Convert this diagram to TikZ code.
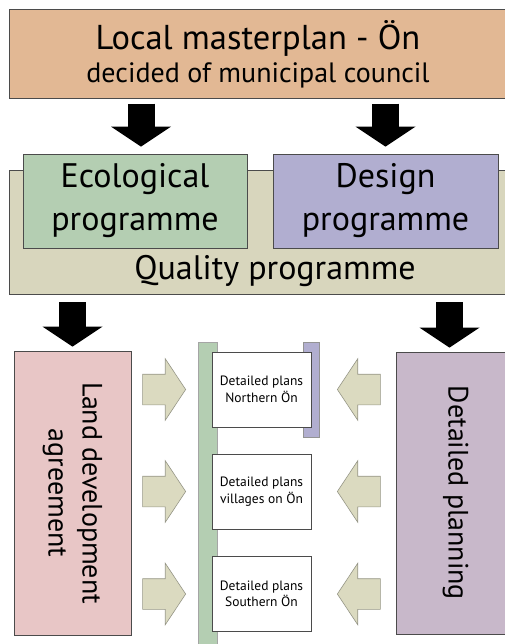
\documentclass[tikz,border=0pt]{standalone}
\usepackage{fontspec}
\setmainfont{PT Sans}
\usepackage{tikz}
\usetikzlibrary{arrows.meta}
\usetikzlibrary{shapes.arrows}

\definecolor{mastercol}{RGB}{226,184,148}
\definecolor{ecocol}{RGB}{180,206,178}
\definecolor{designcol}{RGB}{177,174,208}
\definecolor{qualitycol}{RGB}{216,214,189}
\definecolor{landcol}{RGB}{232,198,198}
\definecolor{plancol}{RGB}{200,184,202}
\definecolor{flowcol}{RGB}{219,218,192}
\definecolor{flowedge}{RGB}{150,150,135}
\definecolor{edgecol}{RGB}{75,75,75}

\begin{document}
\begin{tikzpicture}[x=1pt, y=-1pt,
  plainbox/.style={draw=edgecol, line width=0.8pt, rectangle, inner sep=0pt, align=center},
  bigtext/.style={font=\fontsize{34}{43}\selectfont},
  sidetext/.style={font=\fontsize{28}{34}\selectfont, rotate=-90},
  plantext/.style={font=\fontsize{13.5}{16.5}\selectfont},
  downarrow/.style={line width=27pt, -{Triangle[width=60pt, length=20pt, line width=0pt]}},
  flowarrow/.style={single arrow, draw=flowedge, fill=flowcol, line width=0.6pt, minimum height=43pt, single arrow head extend=15.5pt, single arrow tip angle=113, inner xsep=0pt, inner ysep=15pt, anchor=tip}]
\useasboundingbox (0,0) rectangle (505,644);

\node[plainbox, fill=mastercol, minimum width=498pt, minimum height=88.5pt] (master) at (258,54) {\fontsize{34.5}{35}\selectfont Local masterplan - Ön\\[5pt] \fontsize{28}{35}\selectfont decided of municipal council};

\node[plainbox, fill=qualitycol, minimum width=498pt, minimum height=124pt] (quality) at (258,232) {};
\node[bigtext] (qtext) at (275,271) {Quality programme};
\node[plainbox, bigtext, fill=ecocol, minimum width=224pt, minimum height=94pt] (eco) at (135,201) {Ecological\\programme};
\node[plainbox, bigtext, fill=designcol, minimum width=225pt, minimum height=94pt] (design) at (385.5,201) {Design\\programme};

% rotated boxes: west is the top side
\node[plainbox, sidetext, fill=landcol, minimum width=284pt, minimum height=117pt] (land) at (72.5,493) {Land development\\agreement};
\node[plainbox, sidetext, fill=plancol, minimum width=282pt, minimum height=119pt] (plan) at (455.5,493) {Detailed planning};

\node[plainbox, draw=edgecol!50, fill=ecocol, minimum width=19pt, minimum height=308pt] (greenbar) at (207.5,496) {};
\node[plainbox, draw=edgecol!60, fill=designcol, minimum width=16pt, minimum height=95pt] (purplebar) at (311,389.5) {};

\node[plainbox, plantext, fill=white, minimum width=99pt, minimum height=75pt] (northon) at (261.5,389.5) {Detailed plans\\Northern Ön};
\node[plainbox, plantext, fill=white, minimum width=99pt, minimum height=75pt] (villages) at (261.5,491.5) {Detailed plans\\villages on Ön};
\node[plainbox, plantext, fill=white, minimum width=99pt, minimum height=75pt] (southon) at (261.5,594) {Detailed plans\\Southern Ön};

% tips placed next to the plans
\node[flowarrow] (fl1) at (186,0 |- northon) {};
\node[flowarrow] (fl2) at (186,0 |- villages) {};
\node[flowarrow] (fl3) at (186,0 |- southon) {};
\node[flowarrow, shape border rotate=180] (fr1) at (337,0 |- northon) {};
\node[flowarrow, shape border rotate=180] (fr2) at (337,0 |- villages) {};
\node[flowarrow, shape border rotate=180] (fr3) at (337,0 |- southon) {};

\draw[downarrow, shorten <=5pt, shorten >=7pt] ([xshift=6pt]eco.north |- master.south) to ([xshift=6pt]eco.north);
\draw[downarrow, shorten <=5pt, shorten >=7pt] (design.north |- master.south) to (design.north);
\draw[downarrow, shorten <=8pt, shorten >=4pt] (land.west |- quality.south) to (land.west);
\draw[downarrow, shorten <=8pt, shorten >=4pt] ([xshift=-6pt]plan.west |- quality.south) to ([xshift=-6pt]plan.west);
\end{tikzpicture}
\end{document}
